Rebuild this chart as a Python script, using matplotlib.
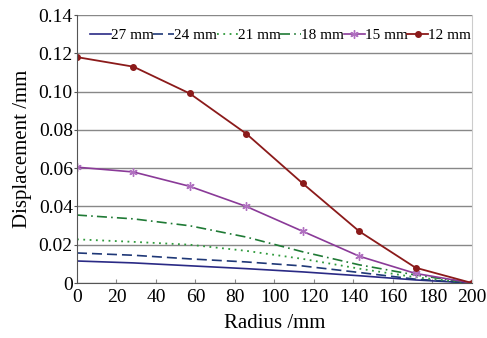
import numpy as np
from matplotlib import pyplot as plt

plt.rcParams['font.family'] = ['Liberation Serif', 'DejaVu Serif']

# radius points (mm)
radius = [0, 28.6, 57.1, 85.7, 114.3, 142.9, 171.4, 200]

# displacement (mm) per series
d27 = [0.0115, 0.0105, 0.0090, 0.0075, 0.0058, 0.0038, 0.0016, 0.0]
d24 = [0.0157, 0.0145, 0.0126, 0.0110, 0.0089, 0.0055, 0.0020, 0.0]
d21 = [0.0228, 0.0215, 0.0200, 0.0168, 0.0126, 0.0075, 0.0030, 0.0]
d18 = [0.0355, 0.0335, 0.0299, 0.0240, 0.0163, 0.0095, 0.0042, 0.0]
d15 = [0.0605, 0.0580, 0.0505, 0.0400, 0.0270, 0.0140, 0.0050, 0.0]
d12 = [0.1180, 0.1130, 0.0990, 0.0780, 0.0520, 0.0270, 0.0080, 0.0]

labels = ['27 mm', '24 mm', '21 mm', '18 mm', '15 mm', '12 mm']
yticks = [0, 0.02, 0.04, 0.06, 0.08, 0.10, 0.12, 0.14]
ytlabels = ['0', '0.02', '0.04', '0.06', '0.08', '0.10', '0.12', '0.14']

fig = plt.figure(figsize=(4.87, 3.38), dpi=100)
ax = fig.add_axes([0.1581, 0.1627, 0.8111, 0.7929])

ax.plot(radius, d27, color='#2a2a85', lw=1.2, label=labels[0])
ax.plot(radius, d24, color='#1f3877', lw=1.2, ls=(0, (6, 3)), label=labels[1])
ax.plot(radius, d21, color='#2f9a3c', lw=1.3, ls=(0, (1, 2.5)), label=labels[2])
ax.plot(radius, d18, color='#1f7a35', lw=1.2, ls=(0, (6, 2.5, 1, 2.5)), label=labels[3])
ax.plot(radius, d15, color='#8a3a98', lw=1.2, marker=(6, 2, 0), ms=6, mec='#b070c0', mew=1, label=labels[4])
ax.plot(radius, d12, color='#8b1a1a', lw=1.3, marker='o', ms=4, label=labels[5])

ax.set_xlim(0, 200)
ax.set_ylim(0, 0.14)
ax.set_xticks(np.arange(0, 201, 20))
ax.set_yticks(yticks)
ax.set_yticklabels(ytlabels)
ax.yaxis.grid(True, color='#888888', lw=1)
ax.set_axisbelow(True)

ax.spines['top'].set_visible(False)
ax.spines['right'].set_color('#cccccc')
ax.spines['left'].set_color('#555555')
ax.spines['bottom'].set_color('#555555')
ax.tick_params(axis='x', direction='in', length=3, color='#888888', labelsize=14, pad=4)
ax.tick_params(axis='y', direction='out', length=2, color='#555555', labelsize=14, pad=1)

ax.set_xlabel('Radius /mm', fontsize=15, labelpad=6)
ax.set_ylabel('Displacement /mm', fontsize=15, labelpad=5)

ax.legend(loc='upper right', ncol=6, frameon=False, fontsize=11,
          handlelength=1.35, handletextpad=0.0, columnspacing=0.0,
          bbox_to_anchor=(1.005, 0.96), borderaxespad=0.0, borderpad=0.2)

plt.savefig('out.png')
